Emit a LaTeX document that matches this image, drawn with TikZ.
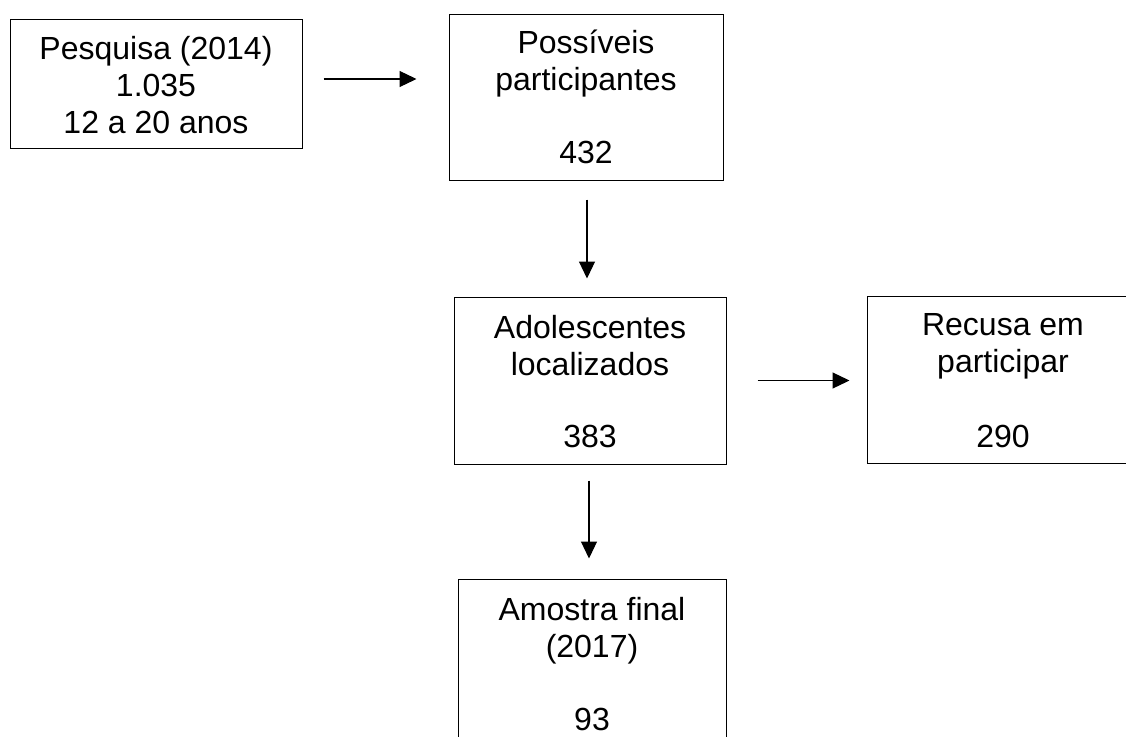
\documentclass[tikz,border=0pt]{standalone}
\usepackage{fontspec}
\setmainfont{Liberation Sans}
\usetikzlibrary{arrows.meta}

\begin{document}
\begin{tikzpicture}[x=1pt, y=1pt,
        caixa/.style={draw, line width=1pt, align=center, inner sep=0pt,
            font=\fontsize{32}{37}\selectfont},
        seta/.style={line width=1.2pt, -{Triangle[length=17pt, width=16pt]}}]
        \useasboundingbox (0,0) rectangle (1126,-736);
        \node[caixa, minimum width=292pt, minimum height=129pt] (pesquisa) at (156,-83.5)
            {\rule{0pt}{27.3pt}Pesquisa (2014)\\1.035\\12 a 20 anos};
        \node[caixa, minimum width=274pt, minimum height=166pt] (possiveis) at (586,-97)
            {\rule{0pt}{24.3pt}Possíveis\\participantes\\[36pt]432};
        \node[caixa, minimum width=272pt, minimum height=167pt] (localizados) at (590,-380.5)
            {\rule{0pt}{24.5pt}Adolescentes\\localizados\\[35pt]383};
        \node[caixa, minimum width=272pt, minimum height=167pt] (recusa) at (1003,-379.5)
            {\rule{0pt}{23.3pt}Recusa em\\participar\\[38pt]290};
        \node[caixa, minimum width=268pt, minimum height=167pt] (amostra) at (592,-662.5)
            {\rule{0pt}{25.3pt}Amostra final\\(2017)\\[36pt]93};
        \draw[seta, shorten <=21pt, shorten >=32pt] ([yshift=4.5pt]pesquisa.east) -- ([yshift=4.5pt]pesquisa.east -| possiveis.west);
        \draw[seta, shorten <=19pt, shorten >=18pt] ([xshift=1pt]possiveis.south) -- ([xshift=1pt]possiveis.south |- localizados.north);
        \draw[seta, shorten <=31pt, shorten >=17pt] (localizados.east) -- (localizados.east -| recusa.west);
        \draw[seta, shorten <=16pt, shorten >=20pt] ([xshift=-1pt]localizados.south) -- ([xshift=-1pt]localizados.south |- amostra.north);
    \end{tikzpicture}
\end{document}
